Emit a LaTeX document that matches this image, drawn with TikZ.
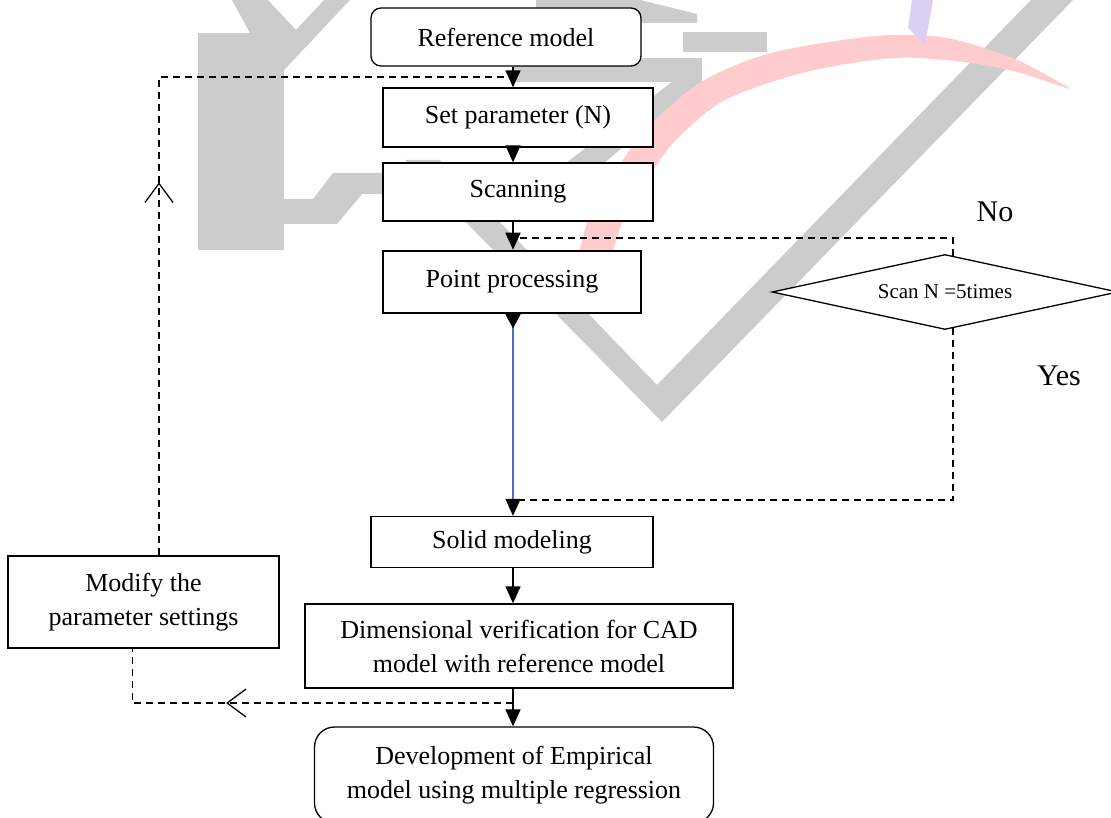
\documentclass[tikz,border=0pt]{standalone}
\usepackage{fontspec}
\setmainfont{Liberation Serif}
\usetikzlibrary{arrows.meta,decorations.markings,shapes.geometric,calc}
\definecolor{wmgray}{RGB}{204,204,204}
\definecolor{wmpink}{RGB}{255,204,206}
\definecolor{wmpurple}{RGB}{220,208,242}
\definecolor{lineblue}{RGB}{68,114,196}
\begin{document}
\begin{tikzpicture}[x=1pt,y=-1pt,
  box/.style={draw, line width=1.3pt, fill=white, inner sep=0pt, align=center, font=\fontsize{26}{34}\selectfont},
  rbox/.style={box, rounded corners=10pt},
  flow/.style={line width=1.5pt, -{Triangle[length=17pt,width=15pt]}},
  fb/.style={line width=1.3pt, dash pattern=on 7pt off 5pt},
  midarr/.style={postaction={decorate}, decoration={markings, mark=at position #1 with {\arrow[line width=1.3pt]{Straight Barb[length=19pt,width=28pt]}}}},
  lbl/.style={font=\fontsize{30}{34}\selectfont, inner sep=0pt},
  wm/.style={fill=wmgray}
]
\useasboundingbox (0,0) rectangle (1111,818);
\fill[white] (0,0) rectangle (1111,818);

% ---- watermark ----
\fill[wm] (198,33) rectangle (284,250);
\fill[wm] (284,199) -- (313,199) -- (333,173) -- (383,173) -- (383,194) -- (362,194) -- (337,224) -- (284,224) -- cycle;
\fill[wm] (232,0) -- (268,0) -- (296,30) -- (324,0) -- (350,0) -- (284,70) -- (270,70) -- cycle;
\fill[wm] (536,0) -- (640,0) -- (697,14) -- (697,23) -- (536,23) -- cycle;
\fill[wm] (683,32) rectangle (767,52);
\fill[wm] (514,58) rectangle (702,82);
\fill[wm] (672,82) -- (702,82) -- (604,163) -- (566,163) -- cycle;
\fill[wm] (405,160) -- (440,160) -- (657,385) -- (1031,0) -- (1073,0) -- (662,422) -- cycle;
\fill[wmpink] plot[smooth] coordinates {(577,262) (590,215) (623,160) (648,127) (701,82) (771,53) (876,36) (947,38) (1017,60) (1069,88)}
  -- plot[smooth] coordinates {(1069,89) (1017,72) (964,62) (894,58) (806,72) (725,100) (676,140) (650,175) (625,215) (610,262)} -- cycle;
\fill[wmpurple] (912,0) -- (933,0) -- (925,45) -- (908,28) -- cycle;

% ---- nodes ----
\node[rbox, minimum width=270pt, minimum height=58pt] (ref) at (506,37) {Reference model};
\node[box, minimum width=270pt, minimum height=59pt] (setp) at (518,117.5) {Set parameter (N)};
\node[box, minimum width=270pt, minimum height=58pt] (scan) at (518,192) {Scanning};
\node[box, line width=2.5pt, minimum width=258pt, minimum height=62pt] (pp) at (512,282) {Point processing};
\node[diamond, draw, line width=1.3pt, fill=white, inner sep=0pt, aspect=4.6, minimum width=346pt, minimum height=75pt, font=\fontsize{21}{24}\selectfont] (dia) at (945,292) {Scan N =5times};
\node[box, minimum width=282pt, minimum height=51pt] (solid) at (512,542) {Solid modeling};
\node[box, minimum width=428pt, minimum height=84pt] (dim) at (519,646) {Dimensional verification for CAD\\model with reference model};
\node[box, rounded corners=20pt, minimum width=399pt, minimum height=96pt] (dev) at (514,775) {Development of Empirical\\model using multiple regression};
\node[box, minimum width=271pt, minimum height=92pt] (modify) at (143.5,602) {Modify the\\parameter settings};
\node[lbl] (no) at (995,212) {No};
\node[lbl] (yes) at (1059,376) {Yes};

% ---- connectors ----
\coordinate (cx) at (513,0);
\coordinate (jn) at (513,238);
\coordinate (jy) at (513,500);
\coordinate (jt) at (513,77);
\coordinate (jb) at (513,703);

\draw[flow] (ref.south -| cx) -- (setp.north -| cx);
\draw[flow] (setp.south -| cx) -- (scan.north -| cx);
\draw[flow] (scan.south -| cx) -- (pp.north -| cx);
\draw[line width=1.3pt, draw=lineblue, {Triangle[reversed,length=14pt,width=15pt,color=black]}-{Triangle[length=17pt,width=15pt,color=black]}] (pp.south -| cx) -- (solid.north -| cx);
\draw[flow] (solid.south -| cx) -- (dim.north -| cx);
\draw[flow] (dim.south -| cx) -- (dev.north -| cx);

\draw[fb] ($(dia.north)+(8,2)$) |- (jn);
\draw[fb] ($(dia.south)+(8,-2)$) |- (jy);
\draw[fb, midarr=373pt] ($(modify.north)+(15.5,0)$) |- (jt);
\draw[fb, midarr=287pt] (jb) -| ($(modify.south)+(-11,0)$);
\end{tikzpicture}
\end{document}
